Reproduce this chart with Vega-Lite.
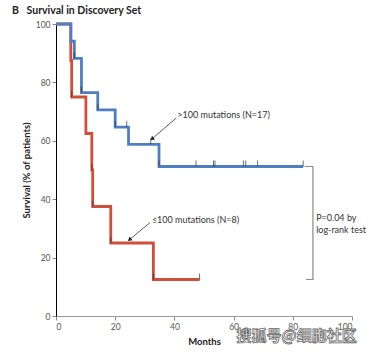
{
  "$schema": "https://vega.github.io/schema/vega-lite/v6.json",
  "width": 296,
  "height": 292,
  "autosize": "none",
  "padding": {"left": 56, "top": 24, "right": 22, "bottom": 38},
  "background": "white",
  "config": {
    "view": {"stroke": null},
    "font": "Lato",
    "axis": {"grid": false, "labelFont": "Lato", "titleFont": "Lato", "labelFontSize": 8.5, "labelColor": "#555", "tickColor": "#888", "tickSize": 4, "labelPadding": 2, "titleFontSize": 9.5, "titleFontWeight": "bold", "titleColor": "#222"}
  },
  "title": {"text": "B\u00a0\u00a0\u00a0Survival in Discovery Set", "anchor": "start", "frame": "group", "dx": -44, "offset": 2, "fontSize": 10.5, "fontWeight": "bold", "font": "Lato", "color": "#222"},
  "datasets": {
    "curves": [
      {"group": "le100", "month": 0, "surv": 100},
      {"group": "le100", "month": 5.0, "surv": 87.5},
      {"group": "le100", "month": 5.3, "surv": 75},
      {"group": "le100", "month": 10.1, "surv": 62.5},
      {"group": "le100", "month": 12.1, "surv": 50},
      {"group": "le100", "month": 12.4, "surv": 37.5},
      {"group": "le100", "month": 18.5, "surv": 25},
      {"group": "le100", "month": 32.9, "surv": 12.5},
      {"group": "le100", "month": 48.5, "surv": 12.5},
      {"group": "gt100", "month": 0, "surv": 100},
      {"group": "gt100", "month": 5.0, "surv": 94.1},
      {"group": "gt100", "month": 6.2, "surv": 88.2},
      {"group": "gt100", "month": 8.6, "surv": 76.5},
      {"group": "gt100", "month": 14.1, "surv": 70.6},
      {"group": "gt100", "month": 20.0, "surv": 64.7},
      {"group": "gt100", "month": 24.5, "surv": 58.8},
      {"group": "gt100", "month": 34.8, "surv": 51.2},
      {"group": "gt100", "month": 83.5, "surv": 51.2}
    ],
    "censor": [
      {"group": "gt100", "month": 6.2, "surv": 88.2},
      {"group": "gt100", "month": 8.6, "surv": 76.5},
      {"group": "gt100", "month": 14.1, "surv": 70.6},
      {"group": "gt100", "month": 20.0, "surv": 64.7},
      {"group": "gt100", "month": 23.9, "surv": 64.7},
      {"group": "gt100", "month": 32.0, "surv": 58.8},
      {"group": "gt100", "month": 34.8, "surv": 51.2},
      {"group": "gt100", "month": 47.3, "surv": 51.2},
      {"group": "gt100", "month": 53.2, "surv": 51.2},
      {"group": "gt100", "month": 53.7, "surv": 51.2},
      {"group": "gt100", "month": 63.3, "surv": 51.2},
      {"group": "gt100", "month": 64.1, "surv": 51.2},
      {"group": "gt100", "month": 68.1, "surv": 51.2},
      {"group": "gt100", "month": 83.5, "surv": 51.2},
      {"group": "le100", "month": 5.3, "surv": 75},
      {"group": "le100", "month": 12.1, "surv": 50},
      {"group": "le100", "month": 12.4, "surv": 37.5},
      {"group": "le100", "month": 18.5, "surv": 25},
      {"group": "le100", "month": 32.9, "surv": 12.5},
      {"group": "le100", "month": 48.5, "surv": 12.5}
    ],
    "arrows": [
      {"m1": 40.6, "s1": 67.8, "m2": 32.6, "s2": 60.8},
      {"m1": 31.8, "s1": 32.0, "m2": 25.0, "s2": 26.3}
    ],
    "bracket": [
      {"ord": 1, "month": 84.0, "surv": 51.2},
      {"ord": 2, "month": 86.8, "surv": 51.2},
      {"ord": 3, "month": 86.8, "surv": 12.5},
      {"ord": 4, "month": 84.5, "surv": 12.5}
    ],
    "labels": [
      {"label": ">100 mutations (N=17)", "month": 41.0, "surv": 68.8},
      {"label": "≤100 mutations (N=8)", "month": 32.4, "surv": 32.9},
      {"label": "P=0.04 by", "month": 87.9, "surv": 33.6},
      {"label": "log-rank test", "month": 87.9, "surv": 29.4}
    ],
    "watermark": [
      {"label": "搜狐号@细胞社区", "month": 81.3, "surv": -7.0}
    ]
  },
  "layer": [
    {
      "data": {"name": "bracket"},
      "mark": {"type": "line", "color": "#8a8a8a", "strokeWidth": 1.2},
      "encoding": {
        "x": {"field": "month", "type": "quantitative", "scale": {"domain": [0, 100], "nice": false}, "axis": {"values": [0, 20, 40, 60, 80, 100], "title": "Months", "domainColor": "#999", "titlePadding": 6}},
        "y": {"field": "surv", "type": "quantitative", "scale": {"domain": [0, 100], "nice": false}, "axis": {"values": [0, 20, 40, 60, 80, 100], "title": "Survival (% of patients)", "domainColor": "#000", "titlePadding": 4}},
        "order": {"field": "ord", "type": "quantitative"}
      }
    },
    {
      "data": {"name": "curves"},
      "mark": {"type": "line", "interpolate": "step-after", "strokeWidth": 2.8},
      "encoding": {
        "x": {"field": "month", "type": "quantitative"},
        "y": {"field": "surv", "type": "quantitative"},
        "color": {"field": "group", "type": "nominal", "scale": {"domain": ["le100", "gt100"], "range": ["#cf4f3a", "#4f7fc2"]}, "legend": null},
        "order": {"field": "month", "type": "quantitative"}
      }
    },
    {
      "data": {"name": "censor"},
      "mark": {"type": "tick", "orient": "vertical", "size": 6, "thickness": 1, "yOffset": -3, "color": "#333"},
      "encoding": {
        "x": {"field": "month", "type": "quantitative"},
        "y": {"field": "surv", "type": "quantitative"}
      }
    },
    {
      "data": {"name": "arrows"},
      "mark": {"type": "rule", "color": "#333", "strokeWidth": 0.8},
      "encoding": {
        "x": {"field": "m1", "type": "quantitative"},
        "y": {"field": "s1", "type": "quantitative"},
        "x2": {"field": "m2"},
        "y2": {"field": "s2"}
      }
    },
    {
      "data": {"name": "arrows"},
      "mark": {"type": "point", "shape": "triangle", "angle": 230, "size": 22, "filled": true, "color": "#222", "opacity": 1},
      "encoding": {
        "x": {"field": "m2", "type": "quantitative"},
        "y": {"field": "s2", "type": "quantitative"}
      }
    },
    {
      "data": {"name": "labels"},
      "mark": {"type": "text", "align": "left", "baseline": "middle", "fontSize": 9, "color": "#333", "font": "Lato"},
      "encoding": {
        "x": {"field": "month", "type": "quantitative"},
        "y": {"field": "surv", "type": "quantitative"},
        "text": {"field": "label"}
      }
    },
    {
      "data": {"name": "watermark"},
      "mark": {"type": "text", "align": "center", "baseline": "middle", "fontSize": 15, "font": "Noto Sans CJK SC", "fontWeight": "bold", "fill": "#ffffff", "stroke": "#666", "strokeWidth": 0.8, "clip": false},
      "encoding": {
        "x": {"field": "month", "type": "quantitative"},
        "y": {"field": "surv", "type": "quantitative"},
        "text": {"field": "label"}
      }
    }
  ]
}
